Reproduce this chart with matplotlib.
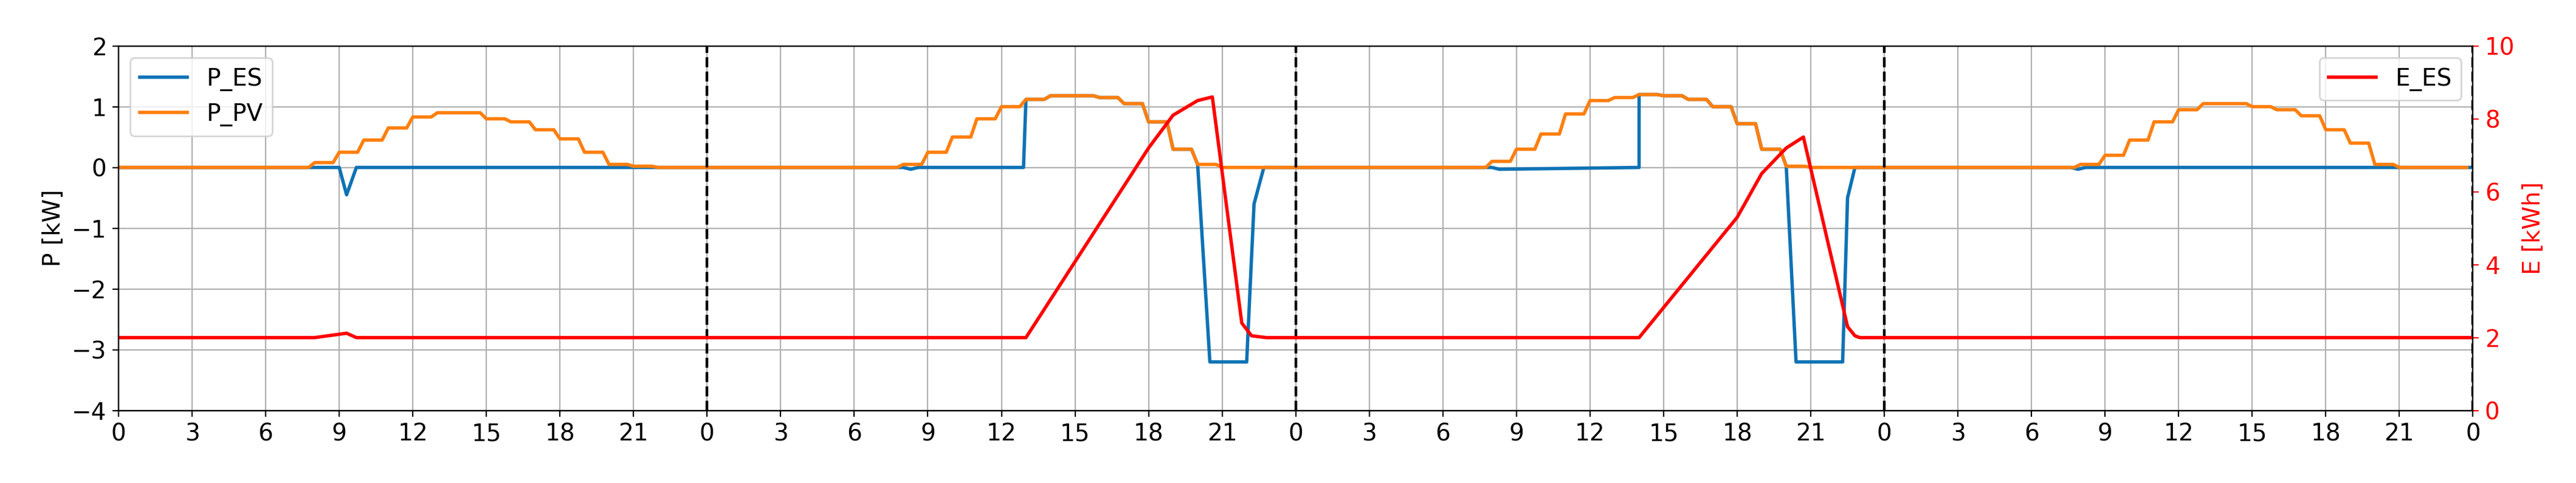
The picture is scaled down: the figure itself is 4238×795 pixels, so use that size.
import matplotlib
matplotlib.use('Agg')
import matplotlib.pyplot as plt
import numpy as np

# hourly PV output per day [kW], hours 0..23
pv_day1 = [0, 0, 0, 0, 0, 0, 0, 0, 0.08, 0.25, 0.45, 0.65, 0.83, 0.9, 0.9, 0.8, 0.75, 0.62, 0.47, 0.25, 0.05, 0.02, 0, 0]
pv_day2 = [0, 0, 0, 0, 0, 0, 0, 0, 0.05, 0.25, 0.5, 0.8, 1.0, 1.12, 1.18, 1.18, 1.15, 1.05, 0.75, 0.3, 0.05, 0, 0, 0]
pv_day3 = [0, 0, 0, 0, 0, 0, 0, 0, 0.1, 0.3, 0.55, 0.88, 1.1, 1.15, 1.2, 1.18, 1.12, 1.0, 0.72, 0.3, 0.02, 0, 0, 0]
pv_day4 = [0, 0, 0, 0, 0, 0, 0, 0, 0.05, 0.2, 0.45, 0.75, 0.95, 1.05, 1.05, 1.0, 0.95, 0.85, 0.62, 0.4, 0.05, 0, 0, 0]

# storage power [kW] at given times [h]; None = follows PV (charging all surplus)
es_t = [0, 9.0, 9.3, 9.7, 32.0, 32.3, 32.6, 36.9, None, 44.5, 46.0, 46.3, 46.7,
        56.0, 56.3, 62.0, None, 68.4, 70.3, 70.5, 70.8, 79.6, 79.9, 80.2, 96]
es_p = [0, 0, -0.45, 0, 0, -0.03, 0, 0, (37, 44.4), -3.2, -3.2, -0.6, 0,
        0, -0.03, 0, (62, 68.3), -3.2, -3.2, -0.5, 0, 0, -0.03, 0, 0]

# storage energy [kWh]
e_t = [0, 8.0, 9.3, 9.7, 37.0, 42.0, 43.0, 44.0, 44.6, 45.8, 46.2, 46.8, 62.0, 66.0, 67.0,
       68.0, 68.7, 70.5, 70.8, 71.0, 96]
e_v = [2.0, 2.0, 2.12, 2.0, 2.0, 7.2, 8.1, 8.5, 8.6, 2.4, 2.05, 2.0, 2.0, 5.3, 6.5,
       7.2, 7.5, 2.3, 2.05, 2.0, 2.0]

pv = pv_day1 + pv_day2 + pv_day3 + pv_day4
hours = np.arange(len(pv))
pv_t = np.ravel(np.column_stack([hours, hours + 0.75]))
pv_p = np.repeat(pv, 2)

# expand ES segments that follow the PV curve
es_x, es_y = [], []
for t, p in zip(es_t, es_p):
    if t is None:
        m = (pv_t >= p[0]) & (pv_t <= p[1])
        es_x.extend(pv_t[m])
        es_y.extend(pv_p[m])
    else:
        es_x.append(t)
        es_y.append(p)

plt.rcParams['font.size'] = 14
fig, ax = plt.subplots(figsize=(21.19, 3.975), dpi=200)
fig.subplots_adjust(left=0.046, right=0.96, top=0.905, bottom=0.15)
ax.plot(es_x, es_y, color='#0e72b5', lw=2.0, label='P_ES')
ax.plot(pv_t, pv_p, color='#ff7f0e', lw=2.0, label='P_PV')
for d in [24, 48, 72, 96]:
    ax.axvline(d, color='black', ls='--', lw=1.6)
ax.set_xlim(0, 96)
ax.set_ylim(-4, 2)
ax.set_xticks(np.arange(0, 97, 3))
ax.set_xticklabels([str(h % 24) for h in range(0, 97, 3)])
ax.set_ylabel('P [kW]')
ax.grid(True)
ax.legend(loc='upper left')

ax2 = ax.twinx()
ax2.plot(e_t, e_v, color='red', lw=2.0, label='E_ES')
ax2.set_ylim(0, 10)
ax2.set_ylabel('E [kWh]', color='red')
ax2.tick_params(axis='y', colors='red')
ax2.legend(loc='upper right')

fig.savefig('out.png')
